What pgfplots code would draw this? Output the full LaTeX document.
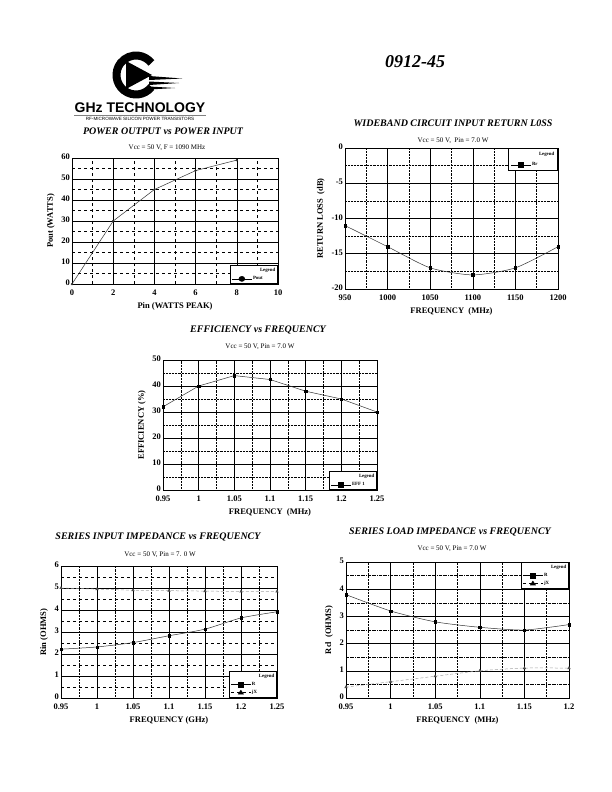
\documentclass[border=0pt]{standalone}
\usepackage{fontspec}
\setmainfont{Liberation Serif}
\newfontfamily\logofont{Liberation Sans}
\usepackage{pgfplots}
\pgfplotsset{compat=1.18}
\newcommand{\tkf}{\fontsize{8.5}{9}\selectfont\bfseries}
\pgfplotsset{
  ds/.style={
    scale only axis,
    axis line style={line width=0.9pt},
    grid=both,
    major grid style={black, line width=0.6pt},
    minor grid style={black, dashed, line width=0.45pt},
    tick style={draw=none},
    minor tick num=1,
    /pgf/number format/1000 sep={},
    xticklabel={\tkf\pgfmathprintnumber[assume math mode=true, 1000 sep={}]{\tick}},
    yticklabel={\tkf\pgfmathprintnumber[assume math mode=true, 1000 sep={}]{\tick}},
    label style={font=\fontsize{8.5}{10}\selectfont\bfseries},
    xticklabel style={yshift=-2pt},
    yticklabel style={xshift=1.5pt, yshift=1pt},
    legend style={font=\fontsize{4.8}{6}\selectfont\bfseries, draw=black, line width=0.6pt, fill=white, inner sep=1.5pt, row sep=1.5pt,
      nodes={inner sep=1pt}},
    legend image post style={xscale=1.15},
    legend cell align=left,
  },
  dat/.style={draw=gray!40!black, line width=0.5pt, mark=square*, mark size=1.2pt, mark options={solid, fill=black, draw=black}},
  datx/.style={draw=gray!70, densely dashed, line width=0.5pt, mark=triangle*, mark size=1.4pt, mark options={solid, fill=gray!60!black, draw=gray!60!black}},
}
\newcommand{\ttl}{\fontsize{10}{12}\selectfont\bfseries\itshape}
\newcommand{\sub}{\fontsize{7}{8}\selectfont}
\newcommand{\LegHead}{\addlegendimage{empty legend}\addlegendentry{\hspace*{7pt}Legend}}
\begin{document}
\begin{tikzpicture}[x=1pt,y=-1pt]
\useasboundingbox[fill=white] (0,0) rectangle (612,792);

% logo
\draw[line width=8pt] (136,75) ++(38:19.5) arc[start angle=38, end angle=322, radius=19.5];
\fill (126,61) -- (126,89) -- (152,75) -- cycle;
\fill (149,76) -- (182,78.5) -- (149,80) -- cycle;
\fill (149,81.5) -- (179,83) -- (149,85) -- cycle;
\fill (149,86.5) -- (175,88) -- (149,89.5) -- cycle;
\node[font=\logofont\fontsize{14}{15}\selectfont\bfseries, inner sep=0pt] at (140,108) {GHz TECHNOLOGY};
\draw[gray, line width=0.6pt] (74,115) -- (206,115);
\node[font=\logofont\fontsize{4.6}{5}\selectfont, inner sep=0pt] at (140,118.5) {RF-MICROWAVE SILICON POWER TRANSISTORS};

\node[font=\fontsize{18}{20}\selectfont\bfseries\itshape] at (415,62) {0912-45};

% titles
\node[font=\ttl] at (163,131) {POWER OUTPUT vs POWER INPUT};
\node[font=\sub] at (167,148) {Vcc = 50 V, F = 1090 MHz};
\node[font=\ttl] at (453,123) {WIDEBAND CIRCUIT INPUT RETURN L0SS};
\node[font=\sub] at (453,141) {Vcc = 50 V,\ \ Pin = 7.0 W};
\node[font=\ttl] at (258,330) {EFFICIENCY vs FREQUENCY};
\node[font=\sub] at (260,347) {Vcc = 50 V, Pin = 7.0 W};
\node[font=\ttl] at (158,537) {SERIES INPUT IMPEDANCE vs FREQUENCY};
\node[font=\sub] at (160,555) {Vcc = 50 V, Pin = 7. 0 W};
\node[font=\ttl] at (450,532) {SERIES LOAD IMPEDANCE vs FREQUENCY};
\node[font=\sub] at (452,549) {Vcc = 50 V, Pin = 7.0 W};

% Plot 1
\begin{axis}[ds, at={(72pt,-284pt)}, anchor=south west, width=206pt, height=126pt,
  xmin=0, xmax=10, ymin=0, ymax=60, xtick={0,2,...,10}, ytick={0,10,...,60},
  xlabel={Pin (WATTS PEAK)}, ylabel={Pout (WATTS)},
  legend style={at={(1,0)}, anchor=south east}]
\LegHead
\addplot[draw=gray!40!black, line width=0.5pt, mark=*, mark size=0.9pt, mark options={fill=black}, forget plot] coordinates {(0,0) (2,30) (4,45) (6,54) (8,59)};
\addlegendimage{draw=black, line width=0.6pt, mark=*, mark size=2.5pt, mark options={fill=black}}
\addlegendentry{Pout}
\end{axis}

% Plot 2
\begin{axis}[ds, at={(345pt,-289pt)}, anchor=south west, width=213pt, height=141pt,
  xmin=950, xmax=1200, ymin=-20, ymax=0, xtick={950,1000,...,1200}, ytick={-20,-15,...,0},
  minor grid style={black, densely dotted, line width=0.55pt},
  xlabel={FREQUENCY\ \ (MHz)}, ylabel={RETURN LOSS\ \ (dB)},
  legend style={at={(1,1)}, anchor=north east, row sep=4pt, inner sep=2.5pt}]
\LegHead
\addplot[dat, smooth, tension=0.4, forget plot] coordinates {(950,-11) (1000,-14) (1050,-17) (1100,-18) (1150,-17) (1200,-14)};
\addlegendimage{draw=black, line width=0.6pt, mark=square*, mark size=2.5pt, mark options={fill=black}}
\addlegendentry{Rr}
\end{axis}

% Plot 3
\begin{axis}[ds, at={(163pt,-490pt)}, anchor=south west, width=214pt, height=130pt,
  xmin=0.95, xmax=1.25, ymin=0, ymax=50,
  xtick={0.95,1,1.05,1.1,1.15,1.2,1.25},
  ytick={0,10,...,50},
  minor x grid style={black, densely dotted, line width=0.55pt},
  minor y grid style={black, densely dotted, line width=0.55pt},
  xlabel={FREQUENCY\ \ (MHz)}, ylabel={EFFICIENCY (\%)},
  legend style={at={(1,0)}, anchor=south east}]
\LegHead
\addplot[dat, forget plot] coordinates {(0.95,32) (1,40) (1.05,44) (1.1,42.5) (1.15,38) (1.2,35) (1.25,30)};
\addlegendimage{draw=black, line width=0.6pt, mark=square*, mark size=2.5pt, mark options={fill=black}}
\addlegendentry{EFF 1}
\end{axis}

% Plot 4
\begin{axis}[ds, at={(61pt,-698pt)}, anchor=south west, width=216pt, height=132pt,
  xmin=0.95, xmax=1.25, ymin=0, ymax=6,
  xtick={0.95,1,1.05,1.1,1.15,1.2,1.25},
  ytick={0,1,...,6},
  minor x grid style={black, densely dotted, line width=0.55pt},
  minor y grid style={black, dashed, line width=0.5pt},
  xlabel={FREQUENCY (GHz)}, ylabel={Rin (OHMS)},
  legend style={at={(1,0)}, anchor=south east}]
\LegHead
\addplot[dat, smooth, tension=0.4, forget plot] coordinates {(0.95,2.22) (1,2.32) (1.05,2.52) (1.1,2.83) (1.15,3.13) (1.2,3.64) (1.25,3.92)};
\addplot[datx, forget plot] coordinates {(0.95,5.0) (1,4.95) (1.05,4.9) (1.1,4.88) (1.15,4.86) (1.2,4.84) (1.25,4.84)};
\addlegendimage{draw=black, line width=0.6pt, mark=square*, mark size=2.5pt, mark options={fill=black}}
\addlegendentry{R}
\addlegendimage{draw=black, dashed, line width=0.6pt, mark=triangle*, mark size=2.5pt, mark options={solid, fill=black}}
\addlegendentry{jX}
\end{axis}

% Plot 5
\begin{axis}[ds, at={(346pt,-698pt)}, anchor=south west, width=223pt, height=136pt,
  xmin=0.95, xmax=1.2, ymin=0, ymax=5,
  xtick={0.95,1,1.05,1.1,1.15,1.2},
  ytick={0,1,...,5},
  minor x grid style={black, densely dotted, line width=0.55pt},
  minor y grid style={black, densely dash dot, line width=0.5pt},
  xlabel={FREQUENCY\ \ (MHz)}, ylabel={Rcl\ \ (OHMS)},
  legend style={at={(1,1)}, anchor=north east}]
\LegHead
\addplot[dat, smooth, tension=0.4, forget plot] coordinates {(0.95,3.8) (1,3.2) (1.05,2.8) (1.1,2.6) (1.15,2.5) (1.2,2.7)};
\addplot[datx, smooth, tension=0.4, forget plot] coordinates {(0.95,0.4) (1,0.6) (1.05,0.8) (1.1,1.0) (1.15,1.1) (1.2,1.1)};
\addlegendimage{draw=black, line width=0.6pt, mark=square*, mark size=2.5pt, mark options={fill=black}}
\addlegendentry{R}
\addlegendimage{draw=black, dashed, line width=0.6pt, mark=triangle*, mark size=2.5pt, mark options={solid, fill=black}}
\addlegendentry{jX}
\end{axis}
\end{tikzpicture}
\end{document}
